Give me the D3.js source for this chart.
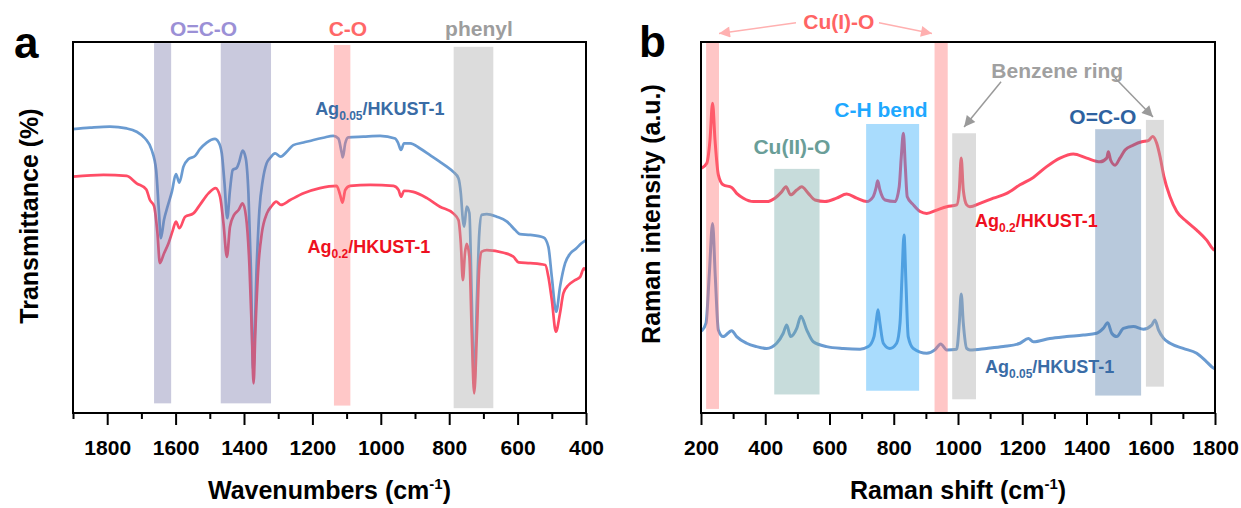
<!DOCTYPE html>
<html><head><meta charset="utf-8">
<script src="https://cdn.jsdelivr.net/npm/d3@7"></script>
<style>
body{margin:0;background:#fff}
svg{display:block}
text{font-family:"Liberation Sans",Arial,sans-serif;font-weight:bold}
</style>
</head><body>
<svg id="c" width="1241" height="508"></svg>
<script>
// ---------- DATA ----------
// FTIR (panel a): wavenumber (cm-1) and transmittance (a.u.)
const ftirWnAg005 = [1900,1850,1792,1743,1714,1689,1670,1657,1649,1643,1634,1623,1611,1599,1589,1577,1563,1543,1529,1509,1485,1475,1465,1457,1449,1441,1433,1421,1414,1404,1395,1387,1380,1373,1363,1355,1345,1334,1324,1309,1293,1275,1256,1226,1197,1168,1139,1124,1114,1111,1104,1095,1051,1002,958,949,941,932,914,885,856,827,807,788,773,766,760,756,749,741,734,727,719,712,705,690,661,631,607,593,563,524,510,500,487,476,461,446,428,414,400];
const ftirAg005 = [76.5,76.9,77.2,76.7,75.8,74.0,70.9,65.5,54.7,47.1,52.0,55.8,59.6,64.4,62.1,66.4,68.4,69.3,71.1,72.9,73.9,73.1,70.0,61.9,52.5,60.1,65.5,66.1,67.7,70.7,68.7,59.2,39.4,11.6,39.4,54.7,62.8,67.3,68.7,70.0,69.1,70.4,72.2,72.9,73.6,74.2,74.7,74.0,70.0,68.9,72.7,74.3,74.5,74.7,74.0,72.7,70.9,72.7,72.7,71.3,69.5,67.7,66.4,65.0,63.3,59.2,52.0,50.2,55.6,53.9,30.5,7.5,30.5,48.5,53.4,53.6,52.9,51.6,49.3,48.2,48.0,47.3,44.8,36.7,27.3,34.0,40.4,43.0,44.4,45.7,46.6];
const ftirWnAg02 = [1900,1811,1743,1714,1686,1675,1663,1653,1646,1634,1621,1608,1599,1589,1572,1548,1529,1504,1483,1470,1460,1450,1441,1429,1416,1404,1394,1384,1377,1372,1367,1358,1348,1333,1319,1306,1292,1265,1226,1178,1129,1119,1112,1104,1090,1031,963,948,941,932,905,865,827,788,773,766,760,754,749,741,734,727,719,712,705,690,641,612,597,563,519,510,500,488,476,466,451,432,417,406,400];
const ftirAg02 = [63.7,64.2,63.9,61.9,60.3,57.4,55.8,48.4,40.4,43.0,45.7,49.3,51.6,49.8,52.9,53.8,56.1,59.2,60.6,58.3,51.1,42.1,50.2,53.4,54.7,56.5,52.9,39.4,21.5,8.0,21.5,39.4,48.4,53.8,55.8,57.0,56.1,57.4,59.2,60.6,61.2,58.8,56.7,60.1,61.2,61.5,61.2,60.1,58.3,59.9,59.6,57.9,55.6,53.8,52.0,45.7,35.8,43.0,45.6,42.1,21.5,5.3,21.5,39.4,43.5,43.9,43.2,42.1,40.6,40.4,39.9,36.7,30.5,21.9,26.9,32.3,34.5,35.8,36.7,39.0,38.4];

// Raman (panel b): Raman shift (cm-1) and intensity (a.u.)
const ramanShiftAg02 = [202,218,228,236,243.6,254,269,295.5,311,332,363,404.5,430,451,464.6,479,498,513.5,534,555,586,622,653.5,684.7,716,736,744.7,750,757,773,804,817,823.5,830,836,842,861,882,902.6,933.7,965,996,1004,1010,1016.5,1027,1037,1068.5,1110,1151.6,1193,1234.5,1276,1317.5,1359,1400.6,1442,1463,1468,1475,1489,1504,1520,1545.6,1572,1592.5,1606,1618.5,1629,1641,1660,1681,1712,1743,1774,1795,1800];
const ramanAg02 = [66.0,67.3,73.6,83.5,73.6,64.2,61.5,60.8,59.2,57.9,57.0,57.0,57.9,59.6,61.0,58.8,60.1,61.0,59.2,57.4,57.0,57.9,59.0,57.9,57.0,58.3,60.6,62.6,60.1,57.4,57.0,61.0,69.1,75.4,66.4,58.3,56.1,54.3,53.8,54.7,55.6,56.1,60.1,68.7,60.1,56.1,55.6,56.5,57.9,59.2,61.5,63.5,66.4,68.7,69.8,68.7,67.7,68.7,70.4,68.2,66.8,68.7,70.9,72.2,73.1,73.4,74.5,72.7,69.1,63.7,58.3,54.3,51.6,49.3,46.6,44.1,43.9];
const ramanShiftAg005 = [202,215.6,226,236,244.5,254,269,295.5,311,342,373,404.5,435.6,456,466.8,479,498,511,529,549.6,591,643,695,721,738.5,744.7,751,757,767.5,788,809,819.5,825.7,832,838,845,861,902.6,928,946,965,996,1004,1010,1016.5,1027,1037,1089,1141,1193,1219,1234.5,1286,1338,1390,1431.6,1452,1466,1478.5,1494,1515,1546,1577,1603,1613,1624,1640,1660,1701,1743,1774,1797,1800];
const ramanAg005 = [22.1,24.2,37.7,51.1,36.7,22.4,20.6,22.2,20.6,18.8,17.9,17.4,18.8,21.5,23.7,20.6,22.8,26.1,22.4,19.2,17.9,17.4,17.2,17.9,20.6,24.2,27.8,24.2,18.8,17.4,18.8,24.2,36.7,48.0,35.0,20.6,17.4,16.1,17.0,18.6,17.0,17.2,24.2,32.1,24.2,17.4,17.0,17.4,17.9,18.8,20.1,19.2,20.1,20.6,21.0,21.5,22.8,24.3,21.5,20.6,22.8,23.3,22.6,23.7,25.1,22.4,20.1,18.8,17.4,16.1,13.8,12.0,11.9];

// Tick labels
const ftirTickLabels = [1800,1600,1400,1200,1000,800,600,400];
const ftirMinorTicks = [1900,1700,1500,1300,1100,900,700,500];
const ramanTickLabels = [200,400,600,800,1000,1200,1400,1600,1800];
const ramanMinorTicks = [300,500,700,900,1100,1300,1500,1700];

// Highlight bands: [from, to, bottom, top] in data units
const ftirBands = [[1613,1663,2.6,99.7],[1321,1468,2.6,99.7],[1089,1137,2.0,99.2],[671,787,1.3,98.7]];
const ftirBandNames = ["O=C-O","O=C-O","C-O","phenyl"];
const ramanBands = [[216,256,1.1,100],[927,968,0,100],[428,569,5.0,65.8],[714,879,6.0,77.9],[982,1056,3.7,75.4],[1427,1570,4.7,76.5],[1585,1641,7.1,79.0]];
const ramanBandNames = ["Cu(I)-O","Cu(I)-O","Cu(II)-O","C-H bend","Benzene ring","O=C-O","Benzene ring"];

// ---------- STYLE ----------
const bandFill = {"O=C-O":"#7878aa","C-O":"#ff7575","phenyl":"#a7a7a7","Cu(I)-O":"#ff7070","Cu(II)-O":"#74a8a4","C-H bend":"#27a8fa","Benzene ring":"#a7a7a7","O=C-Ob":"#4d78a7"};
const colBlue = "#6a9bd1", colRed = "#ff4d66";

const svg = d3.select("#c");
const defs = svg.append("defs");
function marker(id, color){
  defs.append("marker").attr("id",id).attr("viewBox","0 0 10 10").attr("refX",10).attr("refY",5)
    .attr("markerUnits","userSpaceOnUse").attr("markerWidth",18).attr("markerHeight",11).attr("orient","auto")
    .append("path").attr("d","M0,0L10,5L0,10z").attr("fill",color);
}
marker("arrPink","#ffb0b0");
marker("arrGray","#9a9a9a");

const yTop=42, yBot=413;
const xA = d3.scaleLinear().domain([1900,400]).range([73,586]);
const xB = d3.scaleLinear().domain([200,1800]).range([701,1215]);
const yS = d3.scaleLinear().domain([0,100]).range([yBot,yTop]);

function panel(x, wnBlue, vBlue, wnRed, vRed, bands, names, isB, majors, minors, clipId, lw){
  const g = svg.append("g");
  const [x0,x1] = x.range();
  defs.append("clipPath").attr("id",clipId).append("rect").attr("x",x0).attr("y",yTop).attr("width",x1-x0).attr("height",yBot-yTop);
  const line = d3.line().x(d=>x(d[0])).y(d=>yS(d[1])).curve(d3.curveMonotoneX);
  const cg = g.append("g").attr("clip-path",`url(#${clipId})`);
  cg.append("path").datum(d3.zip(wnBlue,vBlue)).attr("d",line).attr("fill","none").attr("stroke",colBlue).attr("stroke-width",lw).attr("stroke-linejoin","round");
  cg.append("path").datum(d3.zip(wnRed,vRed)).attr("d",line).attr("fill","none").attr("stroke",colRed).attr("stroke-width",lw).attr("stroke-linejoin","round");
  // bands on top, translucent
  g.selectAll("rect.band").data(bands).join("rect").attr("class","band")
    .attr("x",d=>Math.min(x(d[0]),x(d[1]))).attr("width",d=>Math.abs(x(d[1])-x(d[0])))
    .attr("y",d=>yS(d[3])).attr("height",d=>yS(d[2])-yS(d[3]))
    .attr("fill",(d,i)=> bandFill[(isB && names[i]==="O=C-O") ? "O=C-Ob" : names[i]]).attr("fill-opacity",0.4);
  // frame
  g.append("rect").attr("x",x0).attr("y",yTop).attr("width",x1-x0).attr("height",yBot-yTop)
    .attr("fill","none").attr("stroke","#000").attr("stroke-width",2);
  // axes
  const ax = g.append("g").attr("transform",`translate(0,${yBot})`)
    .call(d3.axisBottom(x).tickValues(majors).tickSize(12).tickFormat(d3.format("d")));
  ax.select(".domain").remove();
  ax.selectAll(".tick line").attr("stroke","#000").attr("stroke-width",2);
  ax.selectAll(".tick text").attr("y",42).attr("dy",0).attr("font-size",21).attr("fill","#000")
    .style("font-family",'"Liberation Sans",Arial,sans-serif').style("font-weight","bold");
  const axm = g.append("g").attr("transform",`translate(0,${yBot})`)
    .call(d3.axisBottom(x).tickValues(minors).tickSize(6).tickFormat(""));
  axm.select(".domain").remove();
  axm.selectAll(".tick line").attr("stroke","#000").attr("stroke-width",2);
  return g;
}

panel(xA, ftirWnAg005, ftirAg005, ftirWnAg02, ftirAg02, ftirBands, ftirBandNames, false, ftirTickLabels, ftirMinorTicks, "clipA", 2.7);
panel(xB, ramanShiftAg005, ramanAg005, ramanShiftAg02, ramanAg02, ramanBands, ramanBandNames, true, ramanTickLabels, ramanMinorTicks, "clipB", 3);

// ---------- TEXT ----------
function label(x, y, txt, color, size, anchor){
  return svg.append("text").attr("x",x).attr("y",y).attr("fill",color).attr("font-size",size)
    .attr("text-anchor",anchor||"middle").text(txt);
}
function sampleLabel(x, y, sub, color){
  const t = svg.append("text").attr("x",x).attr("y",y).attr("fill",color).attr("font-size",18);
  t.append("tspan").text("Ag");
  t.append("tspan").attr("font-size",12).attr("dy",5).text(sub);
  t.append("tspan").attr("dy",-5).text("/HKUST-1");
}
function axisTitle(x, y, main, rotate){
  const t = svg.append("text").attr("font-size",25).attr("fill","#000").attr("text-anchor","middle")
    .attr("transform",`translate(${x},${y})` + (rotate?" rotate(-90)":""));
  if (main.endsWith("(cm")) {
    t.append("tspan").text(main);
    t.append("tspan").attr("font-size",15).attr("dy",-10).text("-1");
    t.append("tspan").attr("dy",10).text(")");
  } else t.text(main);
}

// panel letters
label(14, 58, "a", "#000", 44, "start");
label(639, 57, "b", "#000", 44, "start");

// panel a annotations
label(xA(1518), yS(101.6), "O=C-O", "#9b90d6", 21);
label(xA(1096), yS(101.6), "C-O", "#ff6868", 21);
label(xA(713), yS(101.6), "phenyl", "#9d9d9d", 21);
sampleLabel(xA(1192), yS(80.3), "0.05", "#3a6ca6");
sampleLabel(xA(1214), yS(43.1), "0.2", "#ee1020");

// panel b annotations
label(xB(629), yS(103.5), "Cu(I)-O", "#ff6464", 21);
function arrow(x1,y1,x2,y2,color,mk){
  svg.append("line").attr("x1",xB(x1)).attr("y1",yS(y1)).attr("x2",xB(x2)).attr("y2",yS(y2))
    .attr("stroke",color).attr("stroke-width",1.5).attr("marker-end",`url(#${mk})`);
}
arrow(495.7,105.2,256,102.3,"#ffb0b0","arrPink");
arrow(754,105.2,919,102.3,"#ffb0b0","arrPink");
label(xB(1309), yS(90.4), "Benzene ring", "#a0a0a0", 21);
arrow(1134,89.3,1019,77.1,"#9a9a9a","arrGray");
arrow(1489,90.3,1607,79.8,"#9a9a9a","arrGray");
label(xB(760), yS(79.9), "C-H bend", "#1ea8ff", 21);
label(xB(483), yS(69.8), "Cu(II)-O", "#6a9e98", 21);
label(xB(1451), yS(77.9), "O=C-O", "#2e62a0", 21);
sampleLabel(xB(1053), yS(50.1), "0.2", "#ee1020");
sampleLabel(xB(1084), yS(10.8), "0.05", "#3a6ca6");

// axis titles
axisTitle(38, 216, "Transmittance (%)", true);
axisTitle(660, 214, "Raman intensity (a.u.)", true);
axisTitle(329.5, 499, "Wavenumbers (cm", false);
axisTitle(958, 499, "Raman shift (cm", false);
</script>
</body></html>
